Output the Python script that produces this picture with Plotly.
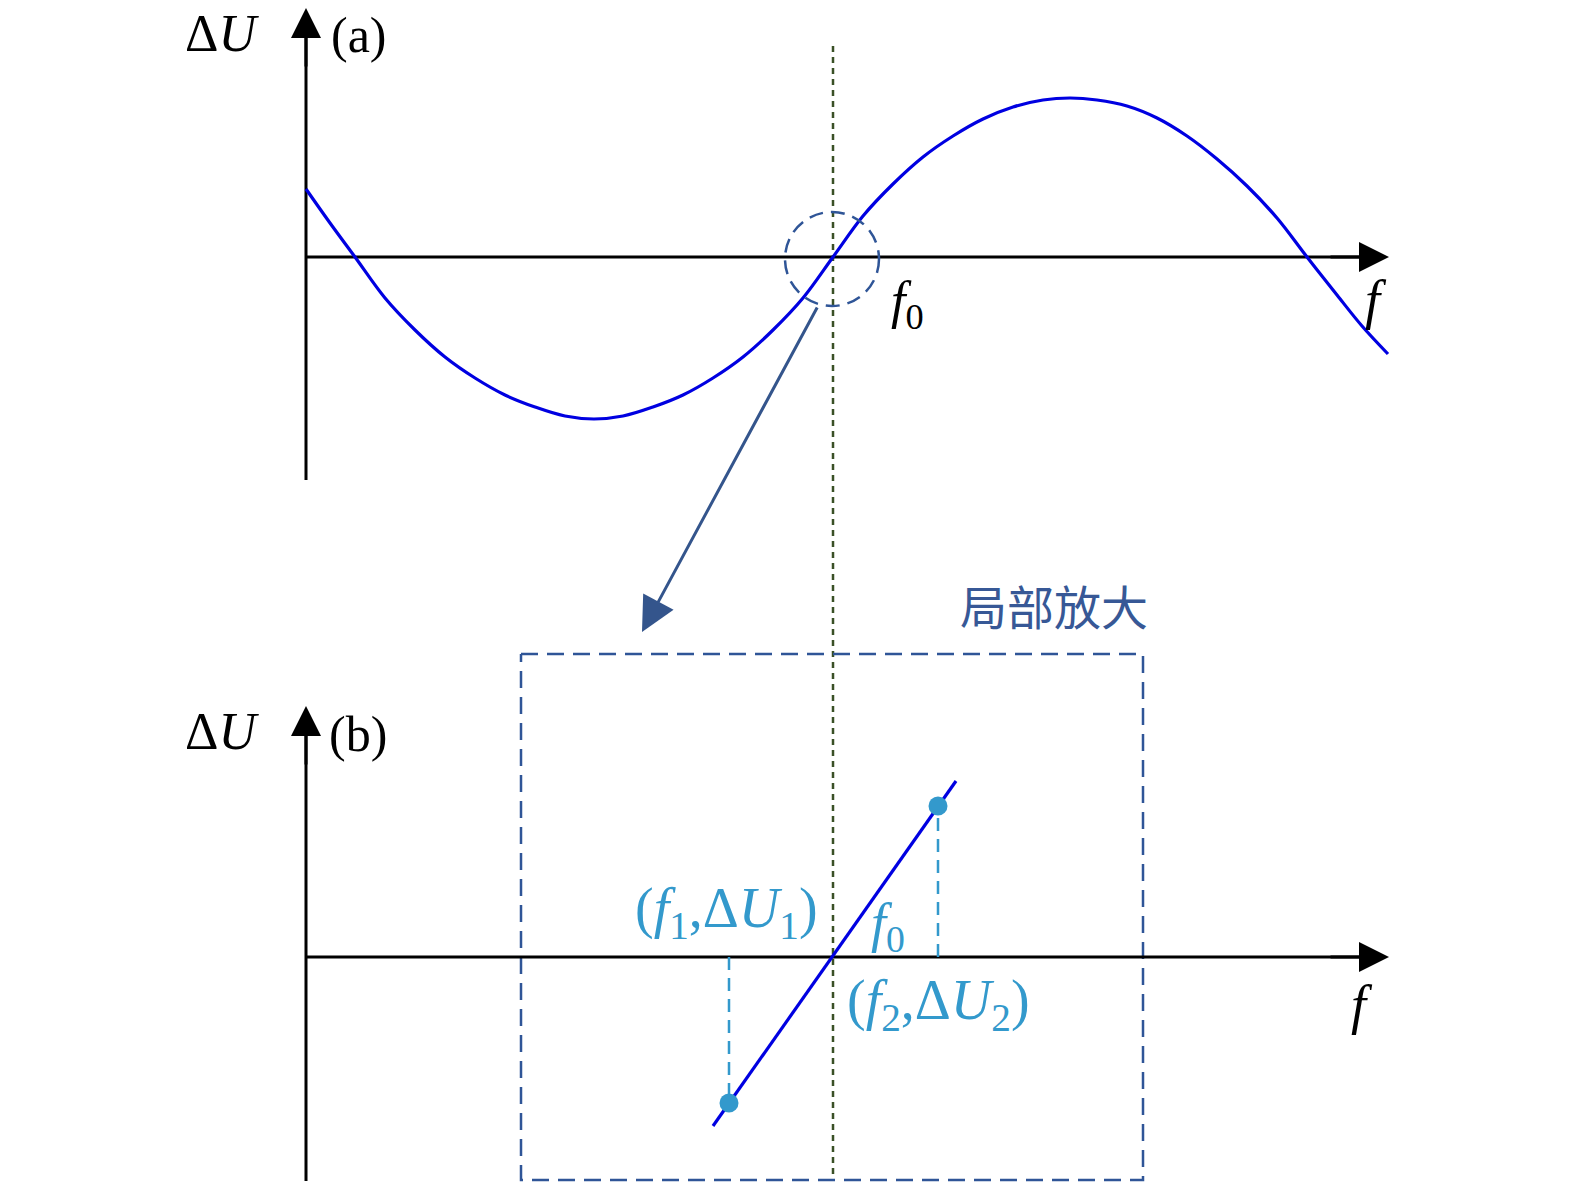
import plotly.graph_objects as go

W, H = 1575, 1191

# ---- data (pixel-space coordinates of the schematic) ----
# (a) response curve ΔU(f)
curve_f = [306, 330, 355, 385, 415, 445, 475, 505, 535, 565, 594,
           623, 653, 683, 713, 743, 773, 803, 833,
           863, 893, 923, 953, 983, 1013, 1043, 1070,
           1097, 1127, 1157, 1187, 1217, 1247, 1277, 1307,
           1337, 1362, 1388]
curve_dU = [189, 223, 257, 298, 330, 357, 378, 395, 407, 416, 419,
            416, 407, 395, 378, 357, 330, 298, 257,
            216, 184, 157, 136, 119, 107, 100, 98,
            100, 106, 118, 136, 159, 186, 218, 257,
            295, 326, 354]

# (b) zoomed linear segment and two measurement points
seg_f = [713, 956]
seg_dU = [1126, 781]
pts_f = [729, 938]
pts_dU = [1103, 806]

# axes (origin, end)
top_origin = (306, 257)
bot_origin = (306, 957)
f_end = 1389
top_y_span = (480, 8)
bot_y_span = (1181, 706)
f0 = 833

# zoom region
circle_c = (832, 259)
circle_r = 47
box_f = (521, 1143)
box_dU = (654, 1180)
arrow_from = (818, 306)
arrow_to = (642, 632)

BLUE = "rgb(0,0,225)"
DBLUE = "rgb(47,85,151)"
LBLUE = "rgb(51,153,204)"
GREEN = "rgb(58,80,38)"
SERIF = "Liberation Serif, DejaVu Serif, serif"

fig = go.Figure()

# vertical f0 guide (dotted green)
fig.add_trace(go.Scatter(x=[f0, f0], y=[46, 1180], mode="lines",
                         line=dict(color=GREEN, width=2.5, dash="6px,5px"), hoverinfo="skip"))

# zoom box
bx = [box_f[0], box_f[1], box_f[1], box_f[0], box_f[0]]
by = [box_dU[0], box_dU[0], box_dU[1], box_dU[1], box_dU[0]]
fig.add_trace(go.Scatter(x=bx, y=by, mode="lines",
                         line=dict(color=DBLUE, width=2.5, dash="17px,9px"), hoverinfo="skip"))

# axis lines (a) and (b)
for (ox, oy), (yb, yt) in [(top_origin, top_y_span), (bot_origin, bot_y_span)]:
    fig.add_trace(go.Scatter(x=[ox, f_end - 20], y=[oy, oy], mode="lines",
                             line=dict(color="black", width=3), hoverinfo="skip"))
    fig.add_trace(go.Scatter(x=[ox, ox], y=[yb, yt + 20], mode="lines",
                             line=dict(color="black", width=3), hoverinfo="skip"))

# curve (a)
fig.add_trace(go.Scatter(x=curve_f, y=curve_dU, mode="lines", line_shape="spline",
                         line=dict(color=BLUE, width=3.2, smoothing=1.0), hoverinfo="skip"))

# dashed projections in (b)
for fx, dy in zip(pts_f, pts_dU):
    fig.add_trace(go.Scatter(x=[fx, fx], y=[bot_origin[1], dy], mode="lines",
                             line=dict(color=LBLUE, width=2.5, dash="13px,8px"), hoverinfo="skip"))

# linear segment (b)
fig.add_trace(go.Scatter(x=seg_f, y=seg_dU, mode="lines",
                         line=dict(color=BLUE, width=3.2), hoverinfo="skip"))
fig.add_trace(go.Scatter(x=pts_f, y=pts_dU, mode="markers",
                         marker=dict(color=LBLUE, size=19), hoverinfo="skip"))

# dashed circle around f0
fig.add_shape(type="circle", xref="x", yref="y",
              x0=circle_c[0] - circle_r, x1=circle_c[0] + circle_r,
              y0=circle_c[1] - circle_r, y1=circle_c[1] + circle_r,
              line=dict(color=DBLUE, width=2.5, dash="14px,8px"))

annotations = []
# arrowheads for axes
for (ox, oy), (yb, yt) in [(top_origin, top_y_span), (bot_origin, bot_y_span)]:
    annotations.append(dict(x=f_end, y=oy, ax=f_end - 60, ay=oy, xref="x", yref="y",
                            axref="x", ayref="y", text="", showarrow=True, arrowhead=2,
                            arrowsize=2.0, arrowwidth=3, arrowcolor="black", standoff=0,
                            font=dict(size=10)))
    annotations.append(dict(x=ox, y=yt, ax=ox, ay=yt + 60, xref="x", yref="y",
                            axref="x", ayref="y", text="", showarrow=True, arrowhead=2,
                            arrowsize=2.0, arrowwidth=3, arrowcolor="black", standoff=0,
                            font=dict(size=10)))
# zoom arrow
annotations.append(dict(x=arrow_to[0], y=arrow_to[1], ax=arrow_from[0], ay=arrow_from[1],
                        xref="x", yref="y", axref="x", ayref="y", text="", showarrow=True,
                        arrowhead=2, arrowsize=2.3, arrowwidth=3, arrowcolor="rgb(52,85,140)",
                        standoff=0, font=dict(size=10)))

def label(x, y, text, color="black", size=52, family=SERIF):
    annotations.append(dict(x=x, y=y, xref="x", yref="y", text=text, showarrow=False,
                            xanchor="center", yanchor="middle",
                            font=dict(family=family, size=size, color=color)))

label(222, 33, "Δ<i>U</i>")
label(359, 35, "(a)", size=50)
label(907, 304, "<i>f</i><sub>0</sub>")
label(1376, 300, "<i>f</i>", size=54)
label(1054, 604, "局部放大", color="rgb(55,88,150)", size=47, family="Noto Sans CJK SC")
label(222, 731, "Δ<i>U</i>")
label(358, 734, "(b)", size=50)
label(726, 912, "(<i>f</i><sub>1</sub>,Δ<i>U</i><sub>1</sub>)", color=LBLUE, size=56)
label(888, 926, "<i>f</i><sub>0</sub>", color=LBLUE, size=54)
label(938, 1004, "(<i>f</i><sub>2</sub>,Δ<i>U</i><sub>2</sub>)", color=LBLUE, size=56)
label(1362, 1005, "<i>f</i>", size=54)

fig.update_layout(
    width=W, height=H, margin=dict(l=0, r=0, t=0, b=0),
    paper_bgcolor="white", plot_bgcolor="white", showlegend=False,
    xaxis=dict(range=[0, W], visible=False, fixedrange=True),
    yaxis=dict(range=[H, 0], visible=False, fixedrange=True),
    annotations=annotations,
)

fig.write_html("out.html", config={"displayModeBar": False},
               post_script="document.body.style.margin='0';document.body.style.overflow='hidden';")
